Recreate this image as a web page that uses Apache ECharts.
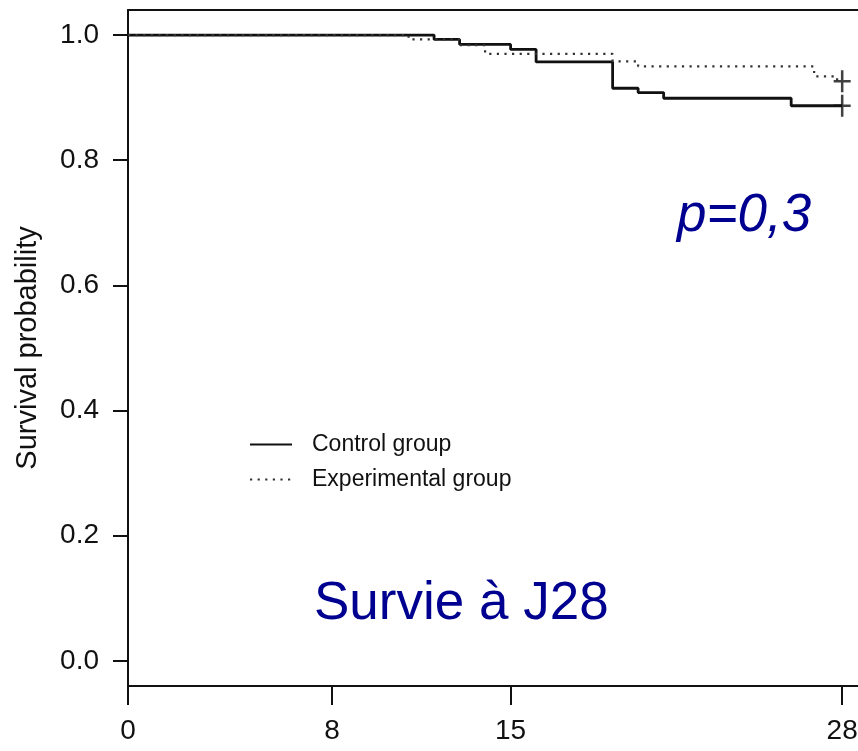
<!DOCTYPE html>
<html>
<head>
<meta charset="utf-8">
<script src="https://cdn.jsdelivr.net/npm/echarts@6/dist/echarts.min.js"></script>
<style>
  html, body { margin: 0; padding: 0; background: #fff; }
  #main { width: 858px; height: 751px; }
</style>
</head>
<body>
<div id="main"></div>
<script>
// survie (jours / probabilite)
var ctrlTimes = [0, 12, 13, 15, 16, 19, 20, 21, 26, 28];
var ctrlSurv  = [1, 0.993, 0.985, 0.977, 0.957, 0.915, 0.908, 0.899, 0.887, 0.887];
var expTimes  = [0, 11, 13, 14, 19, 20, 26.9, 27.8, 28];
var expSurv   = [1, 0.993, 0.984, 0.970, 0.958, 0.950, 0.934, 0.926, 0.926];
var ctrlCensor = [[28, 0.887]];
var expCensor  = [[28, 0.926]];
var xTicks = [0, 8, 15, 28];
var yTicks = [0, 0.2, 0.4, 0.6, 0.8, 1.0];
var names = ['Control group', 'Experimental group'];

function pairs(t, s) {
  var out = [];
  for (var i = 0; i < t.length; i++) out.push([t[i], s[i]]);
  return out;
}

var ink = '#111';
var font = "'Liberation Sans', Arial, sans-serif";
var plus = 'path://M7.25,0 H9.75 V9.75 H17 V12.25 H9.75 V22 H7.25 V12.25 H0 V9.75 H7.25 Z';

var chart = echarts.init(document.getElementById('main'));
var option = {
  animation: false,
  grid: { left: 128, top: 10, right: 0, bottom: 65, outerBoundsMode: 'none', containLabel: false },
  xAxis: [{
    type: 'value', min: 0, max: 28.62,
    axisLine: { onZero: false, lineStyle: { color: ink, width: 2 } },
    axisTick: { show: true, inside: false, length: 19, customValues: xTicks, lineStyle: { color: ink, width: 2 } },
    axisLabel: { customValues: xTicks, margin: 31, fontSize: 28, color: ink, fontFamily: font },
    splitLine: { show: false }
  }, {
    type: 'value', position: 'top', min: 0, max: 28.62,
    axisLine: { show: true, onZero: false, lineStyle: { color: ink, width: 2 } },
    axisTick: { show: false }, axisLabel: { show: false }, splitLine: { show: false }
  }],
  yAxis: {
    type: 'value', min: -0.04, max: 1.04,
    name: 'Survival probability', nameLocation: 'middle', nameGap: 86,
    nameTextStyle: { fontSize: 29, color: ink, fontFamily: font },
    axisLine: { show: true, onZero: false, lineStyle: { color: ink, width: 2 } },
    axisTick: { show: true, inside: false, length: 15, customValues: yTicks, lineStyle: { color: ink, width: 2 } },
    axisLabel: {
      customValues: yTicks, margin: 29, fontSize: 28, color: ink, fontFamily: font,
      formatter: function (v) { return v.toFixed(1); }
    },
    splitLine: { show: false }
  },
  legend: {
    data: names, orient: 'vertical', left: 249, top: 433, padding: 0,
    itemWidth: 42, itemHeight: 14, itemGap: 12,
    itemStyle: { opacity: 0 },
    textStyle: { fontSize: 23, color: ink, fontFamily: font, padding: [0, 0, 0, 15] }
  },
  graphic: [
    { type: 'text', left: 677, top: 190,
      style: { text: 'p=0,3', fill: '#000090', font: 'italic 53px ' + font } },
    { type: 'text', left: 314, top: 578,
      style: { text: 'Survie à J28', fill: '#000090', font: '53px ' + font } }
  ],
  series: [{
    name: names[0], type: 'line', step: 'end', symbol: 'none',
    data: pairs(ctrlTimes, ctrlSurv),
    lineStyle: { color: ink, width: 2.8 }, itemStyle: { color: ink }
  }, {
    name: names[1], type: 'line', step: 'end', symbol: 'none',
    data: pairs(expTimes, expSurv),
    lineStyle: { color: '#333', width: 2.2, type: [2.2, 5.4] }, itemStyle: { color: '#333' }
  }, {
    type: 'scatter', symbol: plus, symbolSize: [17, 22],
    data: ctrlCensor.concat(expCensor),
    itemStyle: { color: ink }, silent: true
  }]
};
chart.setOption(option);
</script>
</body>
</html>
